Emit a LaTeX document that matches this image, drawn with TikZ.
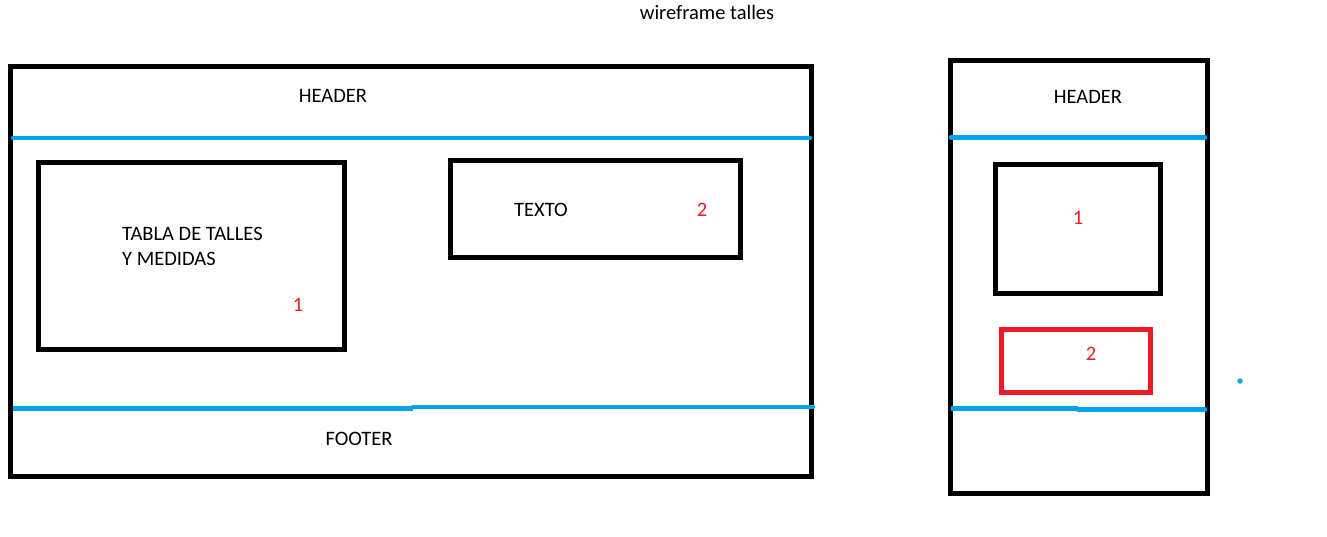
\documentclass[tikz,border=0pt]{standalone}
\usepackage{fontspec}
\setmainfont{Carlito}
\usetikzlibrary{positioning}
\definecolor{wfblue}{HTML}{00A2E8}
\definecolor{wfred}{HTML}{ED1C24}
\tikzset{
  frame/.style={draw=black,line width=5pt},
  redbox/.style={draw=wfred,line width=5pt},
  divider/.style={wfblue,line width=4.5pt,line cap=round},
  label/.style={font=\fontsize{20.5}{25.5}\selectfont,anchor=base,inner sep=0pt},
  num/.style={label,text=wfred}
}

\begin{document}
\begin{tikzpicture}[x=1pt,y=-1pt]
\useasboundingbox (0,0) rectangle (1327,537);
\node[label] (title) at (707,19.5) {wireframe talles};
% desktop
\draw[frame] (10.5,66.5) rectangle (811,476.5);
\draw[divider] (13,138) -- (810,138);
\draw[divider,line cap=butt] (13,408.7) -- (413,408.7);
\draw[divider] (413,407) -- (813,407);
\node[label] (head) at (333,102.5) {HEADER};
\node[label] (foot) at (359,445.5) {FOOTER};
\draw[frame] (38.5,162.5) rectangle (344.5,349.5);
\node[label,anchor=base west,align=left] (tabla) at (122,265.5) {TABLA DE TALLES\\Y MEDIDAS};
\node[num] (one) at (298,311.5) {1};
\draw[frame] (450,160.5) rectangle (740,258);
\node[label] (texto) at (541,217) {TEXTO};
\node[num] (two) at (702,217) {2};
% mobile
\draw[frame] (950.5,60.5) rectangle (1207,493.5);
\draw[divider] (951,137.3) -- (1205,137.3);
\draw[divider,line cap=butt] (951,408.3) -- (1078,408.3);
\draw[divider] (1078,409.3) -- (1205,409.3);
\node[label] (mhead) at (1088,104) {HEADER};
\draw[frame] (995.5,165) rectangle (1160.5,293.5);
\node[num] (mone) at (1078,225) {1};
\draw[redbox] (1001,329.5) rectangle (1150.5,392.5);
\node[num] (mtwo) at (1091,360.7) {2};
\fill[wfblue] (1240,381) circle (2.7pt);
\end{tikzpicture}
\end{document}
